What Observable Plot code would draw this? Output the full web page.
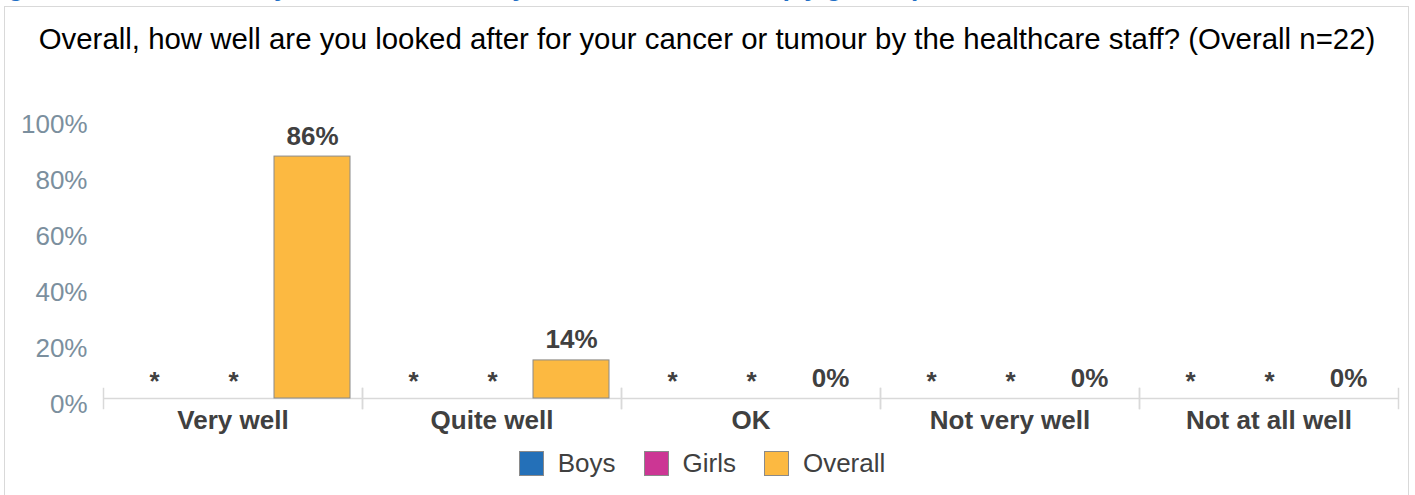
<!DOCTYPE html>
<html>
<head>
<meta charset="utf-8">
<script src="https://cdn.jsdelivr.net/npm/d3@7"></script>
<script src="https://cdn.jsdelivr.net/npm/@observablehq/plot@0.6"></script>
<style>
  html, body { margin: 0; padding: 0; background: #fff; width: 1415px; height: 495px; overflow: hidden; position: relative; font-family: "Liberation Sans", Arial, sans-serif; }
  #heading { position: absolute; left: -15px; top: -26px; white-space: nowrap; font-size: 26px; font-weight: bold; color: #1f6fc5; line-height: 26px; }
  #box { position: absolute; left: 4px; top: 6px; width: 1405px; height: 500px; border: 1.5px solid #d9d9d9; box-sizing: border-box; }
  #title { position: absolute; left: 4px; width: 1406px; top: 24px; text-align: center; font-size: 29.4px; color: #000; line-height: 30px; white-space: nowrap; }
  #chart { position: absolute; left: 0; top: 90px; }
  #legend { position: absolute; left: 0; width: 1404px; top: 448px; display: flex; justify-content: center; align-items: center; font-size: 26px; color: #404040; }
  .item { display: flex; align-items: center; margin: 0 14px; }
  .sw { width: 25px; height: 25px; box-sizing: border-box; border: 1px solid #8a8a8a; margin-right: 14px; }
</style>
</head>
<body>
<div id="heading">Figure 27: How well they are looked after by the healthcare staff (by gender)</div>
<div id="box"></div>
<div id="title">Overall, how well are you looked after for your cancer or tumour by the healthcare staff? (Overall n=22)</div>
<div id="chart"></div>
<div id="legend"></div>
<script>
const categories = ["Very well", "Quite well", "OK", "Not very well", "Not at all well"];
const series = ["Boys", "Girls", "Overall"];
// Boys and Girls values are suppressed (shown as *)
const boys = [null, null, null, null, null];
const girls = [null, null, null, null, null];
const overall = [86.4, 13.6, 0, 0, 0];
const yTicks = [0, 20, 40, 60, 80, 100];
const colors = ["#2470b8", "#cc3694", "#fcb941"];

const valuesBySeries = {Boys: boys, Girls: girls, Overall: overall};
const rows = [];
categories.forEach((c, i) => {
  series.forEach(s => {
    const v = valuesBySeries[s][i];
    rows.push({category: c, series: s, value: v, label: v == null ? "*" : Math.round(v) + "%"});
  });
});

const font = '"Liberation Sans", Arial, sans-serif';
const chart = Plot.plot({
  width: 1415,
  height: 350,
  marginTop: 28,
  marginBottom: 42,
  marginLeft: 102,
  marginRight: 17,
  style: {fontFamily: font, background: "transparent"},
  fx: {domain: categories, paddingInner: 0, paddingOuter: 0, label: null},
  x: {domain: series, paddingInner: 0.04, paddingOuter: 0.15, axis: null},
  y: {domain: [0, 100], label: null},
  color: {domain: series, range: colors},
  marks: [
    Plot.ruleY([0], {stroke: "#d9d9d9", strokeWidth: 1.5}),
    Plot.frame({anchor: "left", stroke: "#d9d9d9", strokeWidth: 1.5, insetTop: 270, insetBottom: -10}),
    Plot.frame({anchor: "right", stroke: "#d9d9d9", strokeWidth: 1.5, insetTop: 270, insetBottom: -10}),
    Plot.barY(rows.filter(d => d.value != null && d.value > 0), {
      fx: "category", x: "series", y: "value", fill: "series", stroke: "#8a8a8a", strokeWidth: 1
    }),
    Plot.text(rows.filter(d => d.value != null), {
      fx: "category", x: "series", y: "value", text: "label", lineAnchor: "bottom", dy: -12,
      fontSize: 26, fontWeight: "bold", fill: "#404040"
    }),
    Plot.text(rows.filter(d => d.value == null), {
      fx: "category", x: "series", y: () => 0, text: "label", lineAnchor: "bottom", dy: -9,
      fontSize: 26, fontWeight: "bold", fill: "#404040"
    }),
    Plot.axisY({ticks: yTicks, tickFormat: d => d + "%", tickSize: 0, tickPadding: 16, dy: 6,
      fontSize: 26, fill: "#7b8f9e", label: null}),
    Plot.axisFx({anchor: "bottom", tickSize: 0, tickPadding: 12, fontSize: 26, fontWeight: "bold",
      fill: "#404040", label: null})
  ]
});
document.getElementById("chart").appendChild(chart);

const legend = document.getElementById("legend");
series.forEach((s, i) => {
  const item = document.createElement("div");
  item.className = "item";
  const sw = document.createElement("div");
  sw.className = "sw";
  sw.style.background = colors[i];
  const t = document.createElement("span");
  t.textContent = s;
  item.appendChild(sw);
  item.appendChild(t);
  legend.appendChild(item);
});
</script>
</body>
</html>
